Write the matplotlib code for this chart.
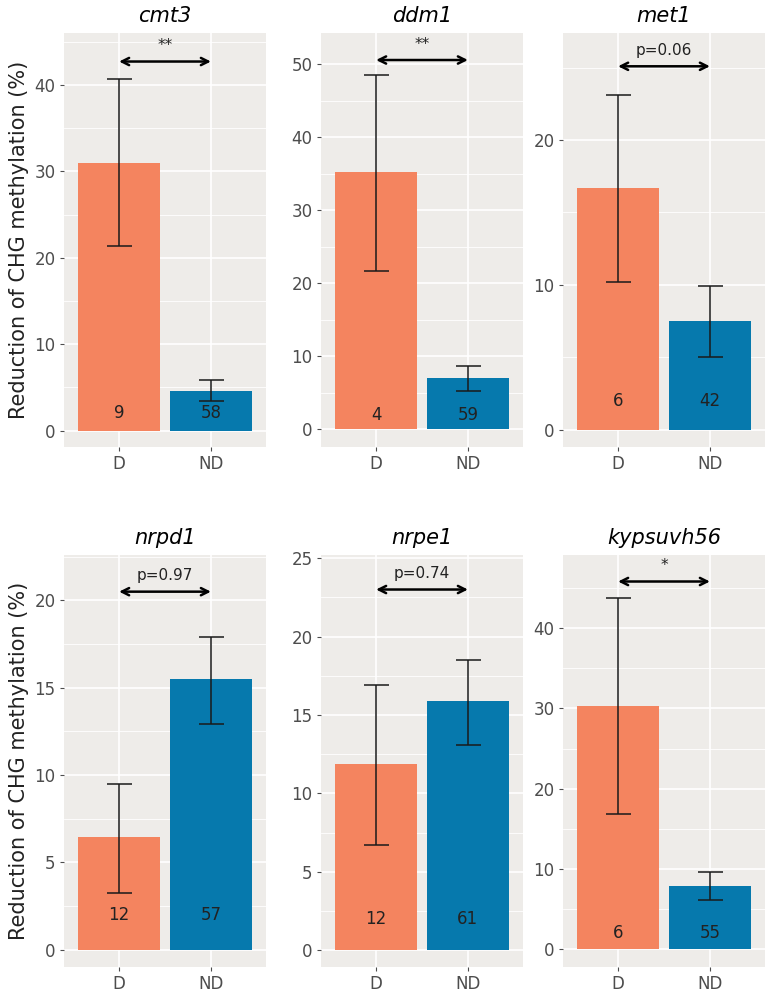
# Reduction of CHG methylation in D vs ND groups for six mutants
import matplotlib.pyplot as plt
import numpy as np

genes = ['cmt3', 'ddm1', 'met1', 'nrpd1', 'nrpe1', 'kypsuvh56']
groups = ['D', 'ND']
means = [[31.0, 4.6], [35.2, 7.0], [16.7, 7.5],
         [6.45, 15.5], [11.9, 15.9], [30.35, 7.9]]
err_lo = [[21.3, 3.4], [21.7, 5.3], [10.2, 5.0],
          [3.25, 12.9], [6.7, 13.1], [16.8, 6.1]]
err_hi = [[40.7, 5.9], [48.6, 8.7], [23.1, 9.9],
          [9.5, 17.9], [16.9, 18.5], [43.7, 9.65]]
counts = [[9, 58], [4, 59], [6, 42], [12, 57], [12, 61], [6, 55]]
signif = ['**', '**', 'p=0.06', 'p=0.97', 'p=0.74', '*']
arrow_y = [42.7, 50.6, 25.1, 20.5, 23.0, 45.8]
ylims = [(-1.9, 46.0), (-2.4, 54.3), (-1.2, 27.4),
         (-1.0, 22.6), (-1.06, 25.2), (-2.2, 49.1)]
yticks = [[0, 10, 20, 30, 40], [0, 10, 20, 30, 40, 50], [0, 10, 20],
          [0, 5, 10, 15, 20], [0, 5, 10, 15, 20, 25], [0, 10, 20, 30, 40]]

colors = ['#F4845F', '#0679AD']
panel_bg = '#EEECE9'

W, H = 768, 994
cols_px = [(64, 266), (321, 523), (563, 765)]
rows_px = [(33, 447), (555, 967)]

fig = plt.figure(figsize=(W / 100, H / 100), dpi=100)

for i, gene in enumerate(genes):
    r, c = divmod(i, 3)
    x0, x1 = cols_px[c]
    y0, y1 = rows_px[r]
    ax = fig.add_axes([x0 / W, 1 - y1 / H, (x1 - x0) / W, (y1 - y0) / H])
    ax.set_facecolor(panel_bg)
    for s in ax.spines.values():
        s.set_visible(False)

    x = np.arange(1, 3)
    lo = np.array(err_lo[i])
    hi = np.array(err_hi[i])
    m = np.array(means[i])
    ax.bar(x, m, width=0.9, color=colors, zorder=2)
    ax.errorbar(x, m, yerr=[m - lo, hi - m], fmt='none', ecolor='#1a1a1a',
                elinewidth=1.1, capsize=9, capthick=1.1, zorder=3)
    for xi, n in zip(x, counts[i]):
        ax.text(xi, 2.0, str(n), ha='center', va='center', fontsize=12,
                color='#222222', zorder=4)

    ax.annotate('', xy=(1, arrow_y[i]), xytext=(2, arrow_y[i]),
                arrowprops=dict(arrowstyle='<->', lw=1.8, color='black',
                                mutation_scale=13, shrinkA=0, shrinkB=0),
                zorder=4)
    ax.text(1.5, arrow_y[i] + 0.02 * (ylims[i][1] - ylims[i][0]), signif[i],
            ha='center', va='bottom', fontsize=11, color='#222222')

    ax.set_xlim(0.4, 2.6)
    ax.set_ylim(*ylims[i])
    ax.set_xticks(x)
    ax.set_xticklabels(groups, fontsize=12, color='#4D4D4D')
    ax.set_yticks(yticks[i])
    ax.set_yticklabels([str(t) for t in yticks[i]], fontsize=12, color='#4D4D4D')
    step = yticks[i][1] - yticks[i][0]
    minor = [t + step / 2 for t in yticks[i]]
    minor = [t for t in minor if t < ylims[i][1]]
    ax.set_yticks(minor, minor=True)
    ax.tick_params(axis='both', which='major', length=3, width=0.8,
                   color='#4D4D4D', pad=3)
    ax.tick_params(axis='y', which='minor', length=0)
    ax.grid(which='major', color='white', lw=1.2, zorder=0)
    ax.grid(which='minor', axis='y', color='white', lw=0.6, zorder=0)
    ax.set_axisbelow(True)
    ax.set_title(gene, fontsize=15, style='italic', pad=8)
    if c == 0:
        ax.set_ylabel('Reduction of CHG methylation (%)', fontsize=15,
                      color='#222222', labelpad=4)

fig.savefig('out.png', dpi=100)
